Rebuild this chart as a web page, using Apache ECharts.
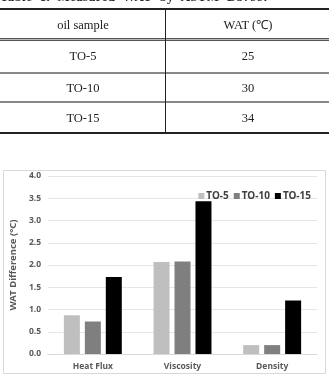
<!DOCTYPE html>
<html>
<head>
<meta charset="utf-8">
<script src="https://cdn.jsdelivr.net/npm/echarts@6/dist/echarts.min.js"></script>
<style>
  html, body { margin: 0; padding: 0; background: #fff; }
  .page { position: relative; width: 329px; height: 378px; overflow: hidden; }
  .caption { position: absolute; left: 0; top: -11px; font: bold 13px "Liberation Serif", serif; word-spacing: 4px; letter-spacing: 0.3px; color: #222; white-space: nowrap; }
  .tbl-line { position: absolute; left: 0; width: 329px; }
  .tbl-cell { position: absolute; width: 164px; text-align: center; font: 12.5px "Liberation Serif", serif; color: #222; line-height: 16px; }
  #chart { position: absolute; left: 0; top: 0; width: 329px; height: 378px; }
</style>
</head>
<body>
<div class="page">
  <div id="chart"></div>
  <div class="caption">Table 1. Measured WAT by ASTM D5799.</div>
  <!-- table rules -->
  <div class="tbl-line" style="top:8px;height:2px;background:#222;"></div>
  <div class="tbl-line" style="top:38px;height:1px;background:#555;"></div>
  <div class="tbl-line" style="top:39px;height:1px;background:#bbb;"></div>
  <div class="tbl-line" style="top:40px;height:1px;background:#555;"></div>
  <div class="tbl-line" style="top:72px;height:2px;background:#888;"></div>
  <div class="tbl-line" style="top:101px;height:2px;background:#888;"></div>
  <div class="tbl-line" style="top:132px;height:2px;background:#222;"></div>
  <div style="position:absolute;left:165px;top:9px;width:1px;height:124px;background:#222;"></div>
  <div id="tbl"></div>
</div>
<script>
// 表格数据
var tableHead = ['oil sample', 'WAT (℃)'];
var tableSamples = ['TO-5', 'TO-10', 'TO-15'];
var tableWat = ['25', '30', '34'];

// 柱状图数据
var categories = ['Heat Flux', 'Viscosity', 'Density'];
var seriesNames = ['TO-5', 'TO-10', 'TO-15'];
var to5 = [0.87, 2.07, 0.2];
var to10 = [0.73, 2.08, 0.2];
var to15 = [1.73, 3.43, 1.2];
var seriesColors = ['#bfbfbf', '#7f7f7f', '#000000'];

// ====== 表格 ======
var rowCenters = [25, 56, 88, 118];
var tbl = document.getElementById('tbl');
var rows = [tableHead].concat(tableSamples.map(function (s, i) { return [s, tableWat[i]]; }));
rows.forEach(function (r, i) {
  r.forEach(function (txt, j) {
    var d = document.createElement('div');
    d.className = 'tbl-cell';
    d.style.left = (j === 0 ? 1 : 166) + 'px';
    d.style.top = (rowCenters[i] - 8) + 'px';
    d.textContent = txt;
    tbl.appendChild(d);
  });
});

// ====== 图表 ======
var chartFont = '"Noto Sans", sans-serif';
var myChart = echarts.init(document.getElementById('chart'));
var dataList = [to5, to10, to15];
var option = {
  animation: false,
  textStyle: { fontFamily: chartFont },
  graphic: [
    {
      type: 'rect',
      shape: { x: 3.5, y: 170.5, width: 322, height: 203 },
      style: { fill: 'none', stroke: '#d9d9d9', lineWidth: 1 },
      silent: true
    }
  ],
  legend: {
    data: seriesNames,
    right: 13,
    top: 186,
    icon: 'rect',
    itemWidth: 6,
    itemHeight: 6,
    itemGap: 5,
    textStyle: { fontFamily: chartFont, fontSize: 10, fontWeight: 'bold', color: '#404040', padding: [0, 0, 0, -3] }
  },
  grid: { left: 35, right: 12, top: 176, bottom: 24, containLabel: false },
  xAxis: {
    type: 'category',
    data: categories,
    axisLine: { lineStyle: { color: '#d9d9d9' } },
    axisTick: { show: false },
    axisLabel: { fontFamily: chartFont, fontSize: 8.5, fontWeight: 'bold', color: '#595959', margin: 8 }
  },
  yAxis: {
    type: 'value',
    min: 0,
    max: 4,
    interval: 0.5,
    name: 'WAT Difference (°C)',
    nameLocation: 'middle',
    nameGap: 25,
    nameTextStyle: { fontFamily: chartFont, fontSize: 9.5, fontWeight: 'bold', color: '#595959' },
    axisLine: { show: false },
    axisTick: { show: false },
    splitLine: { lineStyle: { color: '#e6e6e6' } },
    axisLabel: {
      fontFamily: chartFont,
      fontSize: 8.5,
      fontWeight: 'bold',
      color: '#595959',
      margin: 7,
      formatter: function (v) { return v.toFixed(1); }
    }
  },
  series: seriesNames.map(function (n, i) {
    return {
      name: n,
      type: 'bar',
      data: dataList[i],
      barWidth: 16,
      barGap: '31%',
      itemStyle: { color: seriesColors[i] }
    };
  })
};
myChart.setOption(option);
</script>
</body>
</html>
